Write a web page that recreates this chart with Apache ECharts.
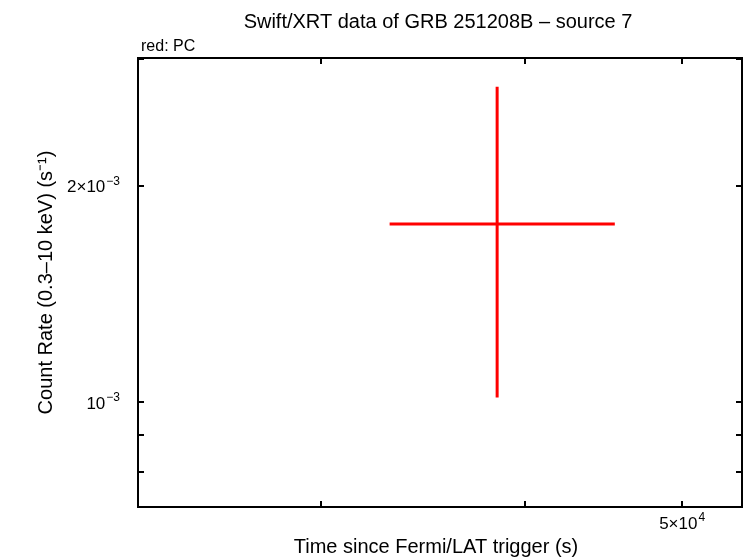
<!DOCTYPE html>
<html>
<head>
<meta charset="utf-8">
<script src="https://cdn.jsdelivr.net/npm/echarts@6/dist/echarts.min.js"></script>
<style>
html,body{margin:0;padding:0;background:#fff;}
#c{width:746px;height:558px;}
</style>
</head>
<body>
<div id="c"></div>
<script>
// Data (PC mode, red)
const time = [38490];
const timeErrLow = [33060];
const timeErrHigh = [45460];
const rate = [1.769e-3];
const rateErrLow = [1.015e-3];
const rateErrHigh = [2.746e-3];

const xRange = [23160, 54420];
const yRange = [7.145e-4, 3.012e-3];
const xTicks = [30000, 40000, 50000];
const xTickLabels = ['', '', '{b|5×10}{s|4}'];
const yTicks = [8e-4, 9e-4, 1e-3, 2e-3, 3e-3];
const yTickLabels = ['', '', '{b|10}{s|−3}', '{b|2×10}{s|−3}', ''];

const FONT = 'Liberation Sans, Arial, Helvetica, sans-serif';

function labelFor(ticks, labels) {
  return function (v) {
    for (let i = 0; i < ticks.length; i++) {
      if (Math.abs(v - ticks[i]) / ticks[i] < 1e-3) return labels[i];
    }
    return '';
  };
}
const richSup = {
  b: {fontSize: 17, lineHeight: 21, verticalAlign: 'bottom', color: '#000', fontFamily: FONT},
  s: {fontSize: 12, lineHeight: 12, verticalAlign: 'top', color: '#000', fontFamily: FONT, padding: [0, 0, 0, 1]}
};

const chart = echarts.init(document.getElementById('c'), null, {renderer: 'canvas'});

function xAxisDef(pos, showLabel) {
  return {
    type: 'log', position: pos, min: xRange[0], max: xRange[1], logBase: 10,
    axisLine: {show: true, onZero: false, lineStyle: {color: '#000', width: 2}},
    axisTick: {show: true, inside: true, length: 6, customValues: xTicks, lineStyle: {color: '#000', width: 2}},
    minorTick: {show: false},
    splitLine: {show: false},
    axisLabel: {show: showLabel, customValues: xTicks, formatter: labelFor(xTicks, xTickLabels),
      color: '#000', fontFamily: FONT, fontSize: 17, margin: 5, rich: richSup},
    name: showLabel ? 'Time since Fermi/LAT trigger (s)' : '',
    nameLocation: 'middle', nameGap: 30,
    nameTextStyle: {color: '#000', fontFamily: FONT, fontSize: 20, padding: [0, 8, 0, 0]}
  };
}
function yAxisDef(pos, showLabel) {
  return {
    type: 'log', position: pos, min: yRange[0], max: yRange[1], logBase: 10,
    axisLine: {show: true, onZero: false, lineStyle: {color: '#000', width: 2}},
    axisTick: {show: true, inside: true, length: 6, customValues: yTicks, lineStyle: {color: '#000', width: 2}},
    minorTick: {show: false},
    splitLine: {show: false},
    axisLabel: {show: showLabel, customValues: yTicks, formatter: labelFor(yTicks, yTickLabels),
      color: '#000', fontFamily: FONT, fontSize: 17, margin: 18, rich: richSup},
    name: showLabel ? 'Count Rate (0.3–10 keV) (s⁻¹)' : '',
    nameLocation: 'middle', nameGap: 82, nameRotate: 90,
    nameTextStyle: {color: '#000', fontFamily: FONT, fontSize: 20}
  };
}

const option = {
  backgroundColor: '#fff',
  animation: false,
  title: [
    {text: 'Swift/XRT data of GRB 251208B – source 7', left: 433, top: 7, textAlign: 'center',
      textStyle: {color: '#000', fontFamily: FONT, fontSize: 20, fontWeight: 'normal'}},
    {text: 'red: PC', left: 136, top: 34,
      textStyle: {color: '#000', fontFamily: FONT, fontSize: 16, fontWeight: 'normal'}}
  ],
  grid: {left: 138, top: 58, right: 4, bottom: 51, containLabel: false, outerBoundsMode: 'none',
    show: true, borderColor: '#000', borderWidth: 2, backgroundColor: 'transparent'},
  xAxis: [xAxisDef('bottom', true), xAxisDef('top', false)],
  yAxis: [yAxisDef('left', true), yAxisDef('right', false)],
  series: [{
    type: 'custom',
    xAxisIndex: 0, yAxisIndex: 0,
    data: time.map((t, i) => [t, rate[i], timeErrLow[i], timeErrHigh[i], rateErrLow[i], rateErrHigh[i]]),
    renderItem: function (params, api) {
      const t = api.value(0), r = api.value(1);
      const pL = api.coord([api.value(2), r]);
      const pR = api.coord([api.value(3), r]);
      const pB = api.coord([t, api.value(4)]);
      const pT = api.coord([t, api.value(5)]);
      const st = {stroke: '#ff0000', lineWidth: 3};
      return {type: 'group', children: [
        {type: 'line', shape: {x1: pL[0], y1: pL[1], x2: pR[0], y2: pR[1]}, style: st},
        {type: 'line', shape: {x1: pB[0], y1: pB[1], x2: pT[0], y2: pT[1]}, style: st}
      ]};
    }
  }]
};
chart.setOption(option);
</script>
</body>
</html>
